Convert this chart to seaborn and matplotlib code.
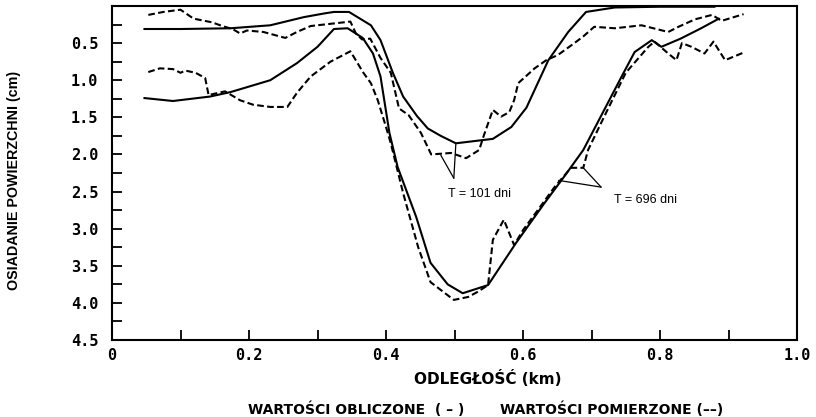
import matplotlib
matplotlib.use("Agg")
import matplotlib.pyplot as plt
from matplotlib import font_manager
from matplotlib.ticker import MultipleLocator, FixedLocator
import numpy as np
import pandas as pd
import seaborn as sns

# ---------------- data ----------------
x_calc_101 = [0.047, 0.10, 0.173, 0.231, 0.28, 0.31, 0.324, 0.346, 0.378, 0.392,
              0.41, 0.425, 0.445, 0.461, 0.48, 0.502, 0.556, 0.583, 0.605, 0.637,
              0.666, 0.692, 0.734, 0.80, 0.88]
y_calc_101 = [0.31, 0.31, 0.30, 0.26, 0.15, 0.10, 0.08, 0.08, 0.26, 0.46,
              0.90, 1.22, 1.48, 1.65, 1.75, 1.85, 1.79, 1.63, 1.37, 0.73,
              0.35, 0.08, 0.02, 0.01, 0.01]

x_meas_101 = [0.053, 0.075, 0.10, 0.119, 0.146, 0.161, 0.176, 0.187, 0.197, 0.221,
              0.253, 0.27, 0.29, 0.319, 0.348, 0.356, 0.365, 0.377, 0.392, 0.407,
              0.419, 0.433, 0.451, 0.466, 0.495, 0.517, 0.536, 0.543, 0.556, 0.568,
              0.58, 0.587, 0.593, 0.617, 0.634, 0.651, 0.675, 0.688, 0.704, 0.734,
              0.773, 0.812, 0.827, 0.851, 0.876, 0.89, 0.922]
y_meas_101 = [0.12, 0.08, 0.05, 0.17, 0.22, 0.27, 0.31, 0.37, 0.33, 0.35,
              0.43, 0.35, 0.27, 0.24, 0.21, 0.37, 0.45, 0.44, 0.70, 0.90,
              1.38, 1.47, 1.71, 2.00, 1.98, 2.05, 1.94, 1.74, 1.40, 1.49,
              1.43, 1.27, 1.04, 0.84, 0.73, 0.66, 0.50, 0.41, 0.28, 0.30,
              0.26, 0.35, 0.28, 0.18, 0.12, 0.20, 0.11]

x_calc_696 = [0.047, 0.089, 0.143, 0.173, 0.231, 0.27, 0.30, 0.324, 0.344, 0.366,
              0.381, 0.392, 0.405, 0.417, 0.444, 0.465, 0.49, 0.512, 0.549, 0.59,
              0.631, 0.66, 0.688, 0.744, 0.763, 0.788, 0.802, 0.83, 0.86, 0.886]
y_calc_696 = [1.24, 1.28, 1.22, 1.16, 1.00, 0.77, 0.55, 0.31, 0.30, 0.43,
              0.64, 0.95, 1.71, 2.17, 2.84, 3.46, 3.75, 3.87, 3.76, 3.19,
              2.66, 2.30, 1.94, 0.95, 0.62, 0.46, 0.55, 0.44, 0.30, 0.17]

x_meas_696 = [0.053, 0.07, 0.089, 0.10, 0.107, 0.122, 0.136, 0.141, 0.165, 0.187,
              0.206, 0.231, 0.256, 0.27, 0.29, 0.319, 0.348, 0.367, 0.378, 0.388,
              0.40, 0.407, 0.425, 0.447, 0.465, 0.499, 0.52, 0.534, 0.549, 0.556,
              0.572, 0.587, 0.60, 0.62, 0.646, 0.67, 0.688, 0.695, 0.718, 0.75,
              0.783, 0.792, 0.812, 0.824, 0.832, 0.846, 0.865, 0.878, 0.895, 0.924]
y_meas_696 = [0.89, 0.84, 0.85, 0.90, 0.87, 0.90, 0.97, 1.20, 1.15, 1.27,
              1.33, 1.36, 1.36, 1.17, 0.95, 0.75, 0.61, 0.90, 1.04, 1.27,
              1.63, 1.85, 2.52, 3.25, 3.72, 3.96, 3.92, 3.85, 3.76, 3.15,
              2.88, 3.22, 3.02, 2.77, 2.44, 2.18, 2.18, 1.94, 1.50, 0.90,
              0.55, 0.48, 0.64, 0.73, 0.50, 0.55, 0.64, 0.48, 0.73, 0.62]

x_ticks = [0.0, 0.2, 0.4, 0.6, 0.8, 1.0]
x_tick_labels = ["0", "0.2", "0.4", "0.6", "0.8", "1.0"]
y_ticks = [0.5, 1.0, 1.5, 2.0, 2.5, 3.0, 3.5, 4.0, 4.5]
y_tick_labels = ["0.5", "1.0", "1.5", "2.0", "2.5", "3.0", "3.5", "4.0", "4.5"]

label_101 = "T = 101 dni"
label_101_pos = (0.536, 2.53)
apex_101 = (0.499, 2.32)
ends_101 = [(0.48, 2.01), (0.502, 1.85)]

label_696 = "T = 696 dni"
label_696_pos = (0.779, 2.61)
apex_696 = (0.714, 2.44)
ends_696 = [(0.652, 2.35), (0.688, 2.18)]

x_label = "ODLEGŁOŚĆ (km)"
y_label = "OSIADANIE POWIERZCHNI (cm)"
legend_calc = "WARTOŚCI OBLICZONE  ( – )"
legend_meas = "WARTOŚCI POMIERZONE (––)"

# ---------------- style ----------------
sns.set_theme(style="white")
plt.rcParams["font.family"] = ["DejaVu Sans"]

available = {f.name for f in font_manager.fontManager.ttflist}
if "Liberation Sans Narrow" in available:
    ylab_font = dict(family="Liberation Sans Narrow", size=12.3)
elif "DejaVu Sans Condensed" in available:
    ylab_font = dict(family="DejaVu Sans Condensed", size=10.5)
else:
    ylab_font = dict(family="Liberation Sans", size=10.3)

fig = plt.figure(figsize=(8.16, 4.17), dpi=100)
ax = fig.add_axes([112 / 816, 1 - 340 / 417, (797 - 112) / 816, (340 - 6) / 417])

curves = [
    (x_calc_101, y_calc_101, "-"),
    (x_meas_101, y_meas_101, (0, (3.2, 1.6))),
    (x_calc_696, y_calc_696, "-"),
    (x_meas_696, y_meas_696, (0, (3.2, 1.6))),
]
for xs, ys, ls in curves:
    df = pd.DataFrame({"x": xs, "y": ys})
    sns.lineplot(data=df, x="x", y="y", ax=ax, sort=False, estimator=None,
                 color="black", linewidth=1.5, linestyle=ls)

# annotation leader lines
for apex, ends in [(apex_101, ends_101), (apex_696, ends_696)]:
    for e in ends:
        ax.annotate("", xy=e, xytext=apex,
                    arrowprops=dict(arrowstyle="-", color="black", lw=0.9,
                                    shrinkA=0, shrinkB=0))
ax.text(*label_101_pos, label_101, ha="center", va="center",
        fontsize=9, family="Liberation Sans", color="black")
ax.text(*label_696_pos, label_696, ha="center", va="center",
        fontsize=9, family="Liberation Sans", color="black")

ax.set_xlim(0, 1.0)
ax.set_ylim(4.5, 0.0)

ax.xaxis.set_major_locator(FixedLocator(x_ticks))
ax.xaxis.set_minor_locator(MultipleLocator(0.1))
ax.yaxis.set_major_locator(FixedLocator(y_ticks))
ax.yaxis.set_minor_locator(MultipleLocator(0.25))
ax.set_xticklabels(x_tick_labels)
ax.set_yticklabels(y_tick_labels)

mono = dict(family="DejaVu Sans Mono", size=11, weight="bold")
for lab in ax.get_xticklabels() + ax.get_yticklabels():
    lab.set_fontfamily(mono["family"])
    lab.set_fontsize(mono["size"])
    lab.set_fontweight(mono["weight"])
    lab.set_color("black")

ax.tick_params(axis="both", which="both", direction="in", length=7, width=1.3,
               color="black", bottom=True, left=True, top=False, right=False)
ax.tick_params(axis="y", which="major", pad=10)
ax.tick_params(axis="x", which="major", pad=6)

for s in ax.spines.values():
    s.set_color("black")
    s.set_linewidth(1.5)

ax.set_xlabel("")
ax.set_ylabel("")
fig.text(488 / 816, 1 - 378 / 417, x_label, ha="center", va="center",
         fontsize=11, fontweight="bold", family="DejaVu Sans", color="black")
fig.text(14 / 816, 1 - 180 / 417, y_label, ha="center", va="center",
         rotation=90, fontweight="bold", color="black", **ylab_font)
fig.text(356 / 816, 1 - 409 / 417, legend_calc, ha="center", va="center",
         fontsize=10, fontweight="bold", family="DejaVu Sans", color="black")
fig.text(612 / 816, 1 - 409 / 417, legend_meas, ha="center", va="center",
         fontsize=10, fontweight="bold", family="DejaVu Sans", color="black")

fig.savefig("out.png", dpi=100, facecolor="white")
